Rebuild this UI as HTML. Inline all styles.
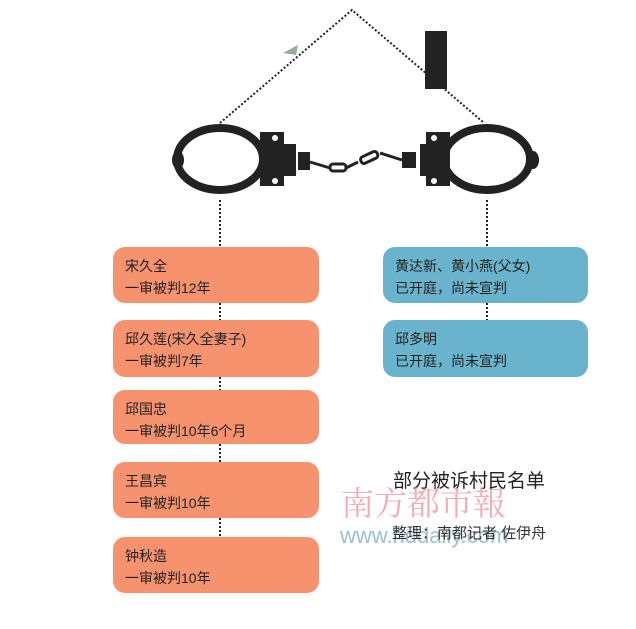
<!DOCTYPE html>
<html><head><meta charset="utf-8"><style>
body{margin:0;width:636px;height:629px;background:#fff;position:relative;overflow:hidden;font-family:"Liberation Sans","Noto Sans CJK SC",sans-serif}
.b{position:absolute;border-radius:12px;color:#222;font-size:14px;line-height:22px;padding:8px 0 0 12px;box-sizing:border-box}
.o{background:#f7926f;left:113px;width:206px}
.u{background:#69b4cc;left:383px;width:205px}
</style></head><body>
<svg width="636" height="629" style="position:absolute;left:0;top:0">
<g stroke="#222" stroke-width="2" stroke-dasharray="2,2" fill="none">
<path d="M220 123 L352 10 L483 122"/>
<path d="M220 200 V247 M220 303 V320 M220 377 V390 M220 444 V462 M220 518 V537"/>
<path d="M487 200 V247 M487 303 V320"/>
</g>
<polygon points="283,53 298,45 296,55" fill="#9aaa9a"/>
<rect x="425" y="31" width="22" height="58" fill="#222"/>
<g fill="none" stroke="#222" stroke-width="8">
<ellipse cx="220" cy="159" rx="43" ry="31"/>
<ellipse cx="487" cy="159" rx="43" ry="31"/>
</g>
<g fill="#222">
<ellipse cx="178" cy="160" rx="6" ry="9"/>
<ellipse cx="533" cy="160" rx="6" ry="9"/>
<rect x="260" y="132" width="24" height="54"/><rect x="276" y="144" width="20" height="32"/>
<rect x="298" y="152" width="12" height="18"/>
<rect x="426" y="132" width="24" height="54"/><rect x="420" y="144" width="20" height="32"/>
<rect x="402" y="152" width="14" height="16"/>
</g>
<g fill="#fff"><circle cx="275" cy="138" r="3"/><circle cx="275" cy="181" r="3"/><circle cx="434" cy="138" r="3"/><circle cx="434" cy="181" r="3"/></g>
<g fill="none" stroke="#222" stroke-width="3">
<path d="M310 162 L330 168"/><rect x="330" y="164" width="16" height="7" rx="3"/>
<path d="M346 168 L358 162"/><rect x="360" y="154" width="18" height="7" rx="3" transform="rotate(-25 369 157)"/>
<path d="M380 153 L402 160"/>
</g>
<text x="393" y="487" font-size="19" fill="#222" font-family="Liberation Sans,Noto Sans CJK SC,sans-serif">部分被诉村民名单</text>
<text x="341" y="515" font-size="33" fill="#f0a0a8" opacity="0.85" font-family="Noto Serif CJK SC,serif">南方都市報</text>
<text x="340" y="543" font-size="22" fill="#9cc0d0" font-family="Liberation Sans,sans-serif">www.nddaily.com</text>
<text x="392" y="538" font-size="15" fill="#333" font-family="Liberation Sans,Noto Sans CJK SC,sans-serif">整理：南都记者 佐伊舟</text>
</svg>
<div class="b o" style="top:247px;height:56px">宋久全<br>一审被判12年</div>
<div class="b o" style="top:320px;height:57px">邱久莲(宋久全妻子)<br>一审被判7年</div>
<div class="b o" style="top:390px;height:54px">邱国忠<br>一审被判10年6个月</div>
<div class="b o" style="top:462px;height:56px">王昌宾<br>一审被判10年</div>
<div class="b o" style="top:537px;height:56px">钟秋造<br>一审被判10年</div>
<div class="b u" style="top:247px;height:56px">黄达新、黄小燕(父女)<br>已开庭，尚未宣判</div>
<div class="b u" style="top:320px;height:57px">邱多明<br>已开庭，尚未宣判</div>
</body></html>
